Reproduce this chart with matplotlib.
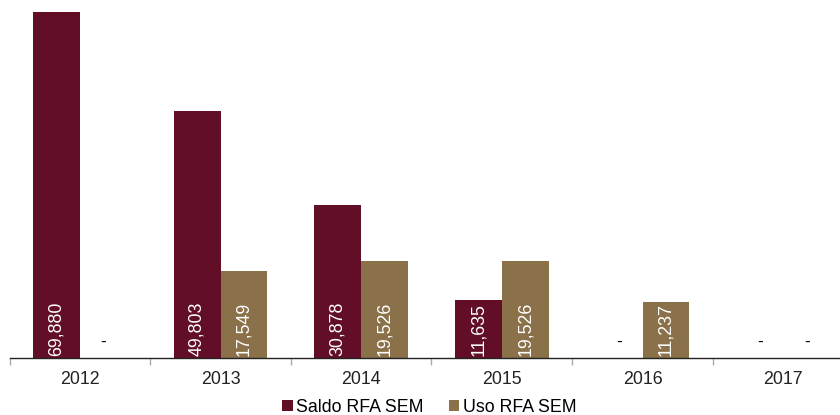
import matplotlib
matplotlib.use("Agg")
import matplotlib.pyplot as plt
import numpy as np

plt.rcParams["font.family"] = ["Liberation Sans", "DejaVu Sans"]

years = ["2012", "2013", "2014", "2015", "2016", "2017"]
saldo = [69880, 49803, 30878, 11635, 0, 0]
uso = [0, 17549, 19526, 19526, 11237, 0]
series_names = ["Saldo RFA SEM", "Uso RFA SEM"]
colors = ["#620E27", "#8B7149"]

fig = plt.figure(figsize=(8.4, 4.15), dpi=100)
W, H = 840, 415
left, right, base, top = 9.5, 853.5, 358, 12
ax = fig.add_axes([left / W, (H - base) / H, (right - left) / W, (base - top) / H])

x = np.arange(len(years))
bw = 0.334
for vals, off, col, name in [(saldo, -bw / 2, colors[0], series_names[0]),
                             (uso, bw / 2, colors[1], series_names[1])]:
    ax.bar(x + off, vals, width=bw, color=col, label=name, zorder=2)
    for xi, v in zip(x + off, vals):
        if v > 0:
            ax.annotate(f"{v:,}", xy=(xi, 0), xytext=(0, 1.5), textcoords="offset points",
                        rotation=90, ha="center", va="bottom", color="white", fontsize=12.8)
        else:
            ax.annotate("-", xy=(xi, 0), xytext=(0, 11), textcoords="offset points",
                        ha="center", va="center", color="black", fontsize=12.5)

ax.set_xlim(-0.5, len(years) - 0.5)
ax.set_ylim(0, max(saldo))
for s in ["left", "right", "top"]:
    ax.spines[s].set_visible(False)
ax.spines["bottom"].set_color("#222222")
ax.spines["bottom"].set_linewidth(1.0)
ax.set_yticks([])
ax.set_xticks(x)
ax.set_xticklabels(years, fontsize=12.8, color="#222222")
ax.tick_params(axis="x", length=0, pad=9)
ax.set_xticks(np.arange(-0.5, len(years)), minor=True)
ax.tick_params(axis="x", which="minor", length=5, color="#aaaaaa", width=1)

fig.legend(loc="center", bbox_to_anchor=(0.511, 0.019), ncol=2, frameon=False,
           fontsize=12.8, handlelength=0.6, handleheight=0.6, handletextpad=0.2,
           columnspacing=1.4, borderpad=0)

fig.savefig("out.png", dpi=100)
